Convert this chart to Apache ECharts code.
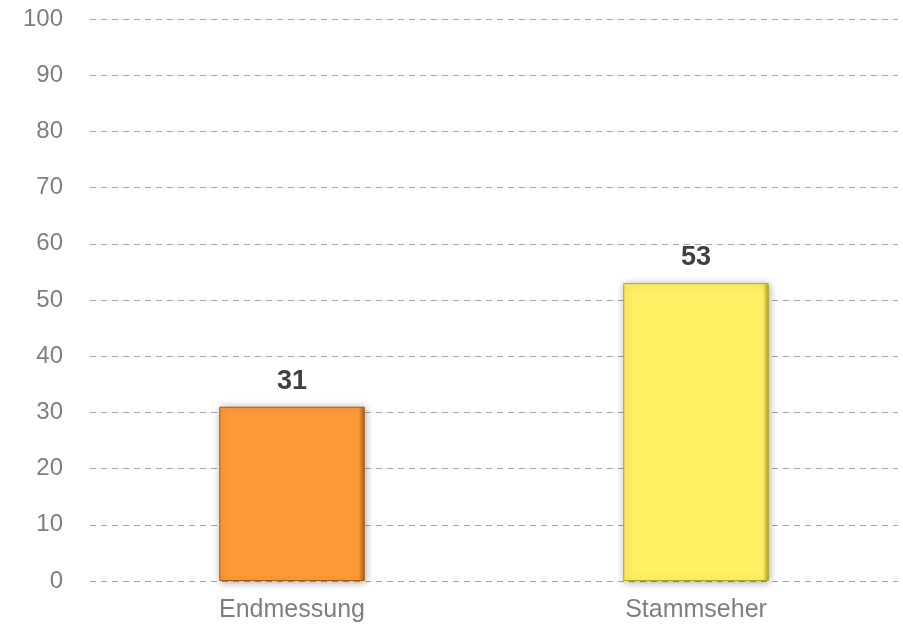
<!DOCTYPE html>
<html><head><meta charset="utf-8">
<script src="https://cdn.jsdelivr.net/npm/echarts@6/dist/echarts.min.js"></script>
<style>html,body{margin:0;padding:0;background:#fff}#c{width:903px;height:627px}</style>
</head><body><div id="c"></div>
<script>
const categories = ['Endmessung', 'Stammseher'];
const values = [31, 53];
const barColors = ['#FF9A37', '#FFF064'];
const edgeColors = ['#A85A10', '#B5A420'];
const yTicks = {min: 0, max: 100, interval: 10};

const chart = echarts.init(document.getElementById('c'), null, {renderer: 'canvas'});
chart.setOption({
  animation: false,
  grid: {left: 90, right: 5, top: 19, bottom: 46},
  xAxis: {
    type: 'category', data: categories,
    axisLine: {show: false}, axisTick: {show: false},
    axisLabel: {color: '#7F7F7F', fontSize: 25, fontFamily: 'Liberation Sans, Arial', margin: 17}
  },
  yAxis: {
    type: 'value', min: yTicks.min, max: yTicks.max, interval: yTicks.interval,
    axisLine: {show: false}, axisTick: {show: false},
    axisLabel: {color: '#7F7F7F', fontSize: 24, fontFamily: 'Liberation Sans, Arial', margin: 27},
    splitLine: {lineStyle: {color: '#A6A6A6', type: [6, 5], width: 1}}
  },
  series: [{
    type: 'bar', barWidth: '36%',
    data: values.map((v, i) => ({
      value: v,
      itemStyle: {
        color: {type: 'linear', x: 0, y: 0, x2: 1, y2: 0, colorStops: [
          {offset: 0, color: barColors[i]}, {offset: 0.96, color: barColors[i]}, {offset: 1, color: edgeColors[i]}]},
        borderColor: edgeColors[i], borderWidth: 1,
        shadowColor: 'rgba(0,0,0,0.35)', shadowBlur: 8, shadowOffsetX: 1, shadowOffsetY: 1
      }
    })),
    label: {show: true, position: 'top', distance: 12, color: '#404040', fontSize: 27, fontWeight: 'bold', fontFamily: 'Liberation Sans, Arial'}
  }]
});
</script></body></html>
